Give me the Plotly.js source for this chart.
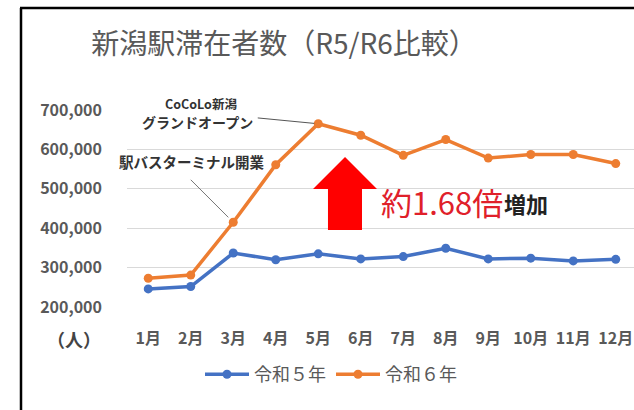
<!DOCTYPE html>
<html><head><meta charset="utf-8">
<script src="https://cdn.plot.ly/plotly-3.0.1.min.js"></script>
<style>html,body{margin:0;padding:0;background:#fff}</style>
</head><body><div id="chart" style="width:634px;height:410px"></div>
<script>
const months = ["1月","2月","3月","4月","5月","6月","7月","8月","9月","10月","11月","12月"];
const r5 = [246000,252000,337000,320000,335000,322000,328000,349000,322000,324000,317000,321000];
const r6 = [273000,281000,415000,561000,665000,636000,585000,625000,578000,587000,587000,564000];
const seriesNames = ["令和５年","令和６年"];
const yTicks = [200000,300000,400000,500000,600000,700000];

const W=634,H=410,L=127,R=0,T=110,B=103;
const pw=W-L-R, ph=H-T-B;
const px=x=>(x-L)/pw, py=y=>(H-B-y)/ph;
const F="'Noto Sans CJK JP', 'Noto Sans', sans-serif";
const gray="#595959";

const traces=[
 {x:months,y:r5,name:seriesNames[0],type:"scatter",mode:"lines+markers",
  line:{color:"#4472C4",width:3.5},marker:{color:"#4472C4",size:9}},
 {x:months,y:r6,name:seriesNames[1],type:"scatter",mode:"lines+markers",
  line:{color:"#ED7D31",width:3.5},marker:{color:"#ED7D31",size:9}}
];

const arrowPts=[[345,157],[377,189],[362,189],[362,230],[328,230],[328,189],[313,189]];
const arrowPath="M "+arrowPts.map(p=>px(p[0]).toFixed(4)+","+py(p[1]).toFixed(4)).join(" L ")+" Z";

const layout={
 width:W,height:H,margin:{l:L,r:R,t:T,b:B},
 paper_bgcolor:"#fff",plot_bgcolor:"#fff",
 font:{family:F,color:gray},
 showlegend:true,
 legend:{orientation:"h",x:px(331),xanchor:"center",xref:"paper",y:py(393),yanchor:"bottom",
   font:{size:18,color:gray,family:F},itemwidth:44,tracegroupgap:0},
 xaxis:{type:"category",range:[-0.5,-0.5+pw/42.5],showgrid:false,zeroline:false,
   showline:false,ticks:"",tickfont:{size:16,color:gray,weight:"bold",family:F},
   ticklabelstandoff:20},
 yaxis:{range:[200000,700000],tickvals:yTicks,tickformat:",d",showgrid:true,gridcolor:"#D9D9D9",
   gridwidth:1,zeroline:false,showline:false,ticks:"",
   tickfont:{size:16,color:gray,weight:"bold",family:F},ticklabelstandoff:24},
 title:{text:"新潟駅滞在者数（R5/R6比較）",x:px(284),xref:"paper",xanchor:"center",
   y:1-44/H,yanchor:"middle",font:{size:28,color:gray,family:F}},
 shapes:[
  {type:"path",xref:"paper",yref:"paper",path:arrowPath,fillcolor:"#FF0000",line:{width:0}},
  {type:"line",xref:"paper",yref:"paper",x0:px(21),x1:px(21),y0:py(8),y1:py(412),line:{color:"#000",width:2.5}},
  {type:"line",xref:"paper",yref:"paper",x0:px(20),x1:px(640),y0:py(8),y1:py(8),line:{color:"#000",width:2.5}}
 ],
 annotations:[
  {xref:"paper",yref:"paper",x:px(74),y:py(339),text:"（人）",showarrow:false,
   font:{size:18,color:"#444",weight:"bold",family:F},xanchor:"center",yanchor:"middle"},
  {xref:"paper",yref:"paper",x:px(201),y:py(104),text:"CoCoLo新潟",showarrow:false,
   font:{size:12.5,color:"#333",weight:"bold",family:F},xanchor:"center",yanchor:"middle"},
  {xref:"paper",yref:"paper",x:px(197),y:py(122),text:"グランドオープン",showarrow:false,
   font:{size:14,color:"#333",weight:"bold",family:F},xanchor:"center",yanchor:"middle"},
  {xref:"paper",yref:"paper",x:px(191),y:py(161),text:"駅バスターミナル開業",showarrow:false,
   font:{size:14.5,color:"#333",weight:"bold",family:F},xanchor:"center",yanchor:"middle"},
  {x:months[4],y:r6[4],xref:"x",yref:"y",text:"",showarrow:true,arrowhead:0,arrowwidth:1,
   arrowcolor:"#555",ax:-62,ay:-6,standoff:4},
  {x:months[2],y:r6[2],xref:"x",yref:"y",text:"",showarrow:true,arrowhead:0,arrowwidth:1,
   arrowcolor:"#777",ax:-44,ay:-44,standoff:7},
  {xref:"paper",yref:"paper",x:px(379),y:py(201),text:"約1.68倍",showarrow:false,
   font:{size:31,color:"#E0202A",family:F},xanchor:"left",yanchor:"middle"},
  {xref:"paper",yref:"paper",x:px(502),y:py(203),text:"増加",showarrow:false,
   font:{size:22,color:"#222",weight:"bold",family:F},xanchor:"left",yanchor:"middle"}
 ]
};
Plotly.newPlot("chart",traces,layout,{displayModeBar:false,responsive:false});
</script></body></html>
